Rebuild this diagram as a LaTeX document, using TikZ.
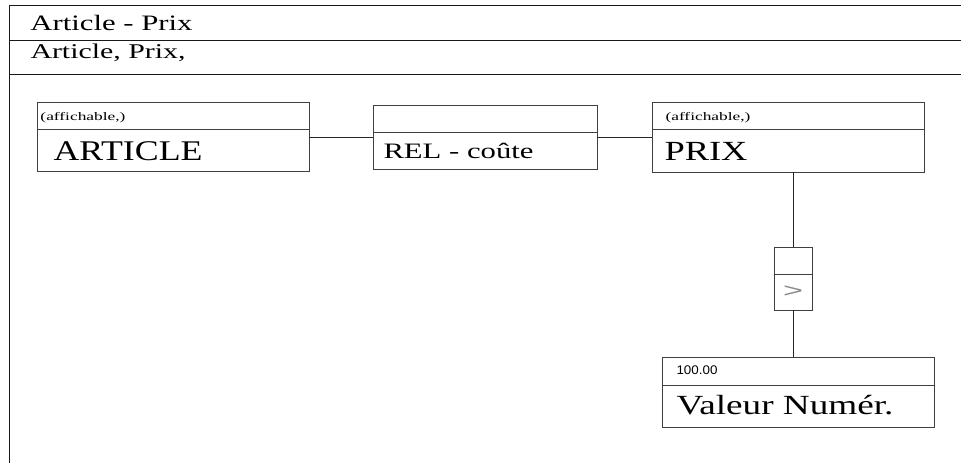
\documentclass[tikz,border=0pt]{standalone}
\usepackage{fontspec}
\usepackage{graphicx}
\setmainfont{Liberation Serif}
\newfontfamily\numfont{Liberation Sans}
% stretch a piece of text horizontally to a given width, height unchanged
\newcommand\fitw[2]{\resizebox{#1}{\height}{#2}}
\newcommand\fsz[1]{\fontsize{#1}{#1}\selectfont}
\begin{document}
\begin{tikzpicture}[x=1pt,y=-1pt,line width=1pt,
  frame/.style={draw=black!90},
  cell/.style={draw=black!75, fill=white, anchor=north west, inner sep=0pt, outer sep=0pt},
  txt/.style={inner sep=0pt, anchor=base west, text=black},
  link/.style={draw=black!85}]
\useasboundingbox (0,0) rectangle (961,463);

% outer frame and title rows
\draw[frame] (961,5) -- (9,5) -- (9,463);
\draw[frame] (9,40) -- (961,40);
\draw[frame] (9,74) -- (961,74);
\node[txt] (title) at (30,30.5) {\fsz{22}\fitw{162pt}{Article - Prix}};
\node[txt] (members) at (30,58) {\fsz{21}\fitw{155pt}{Article, Prix,}};

% ARTICLE entity
\node[cell, minimum width=272, minimum height=27] (artH) at (37,102) {};
\node[cell, minimum width=272, minimum height=42] (artB) at (37,129) {};
\node[txt] (artTag) at (40,120) {\fsz{11.5}\fitw{85pt}{(affichable,)}};
\node[txt] (artName) at (53,160.5) {\fsz{28.5}\fitw{149pt}{ARTICLE}};

% relation
\node[cell, minimum width=224, minimum height=27] (relH) at (373,105) {};
\node[cell, minimum width=224, minimum height=37] (relB) at (373,132) {};
\node[txt] (relName) at (383,158) {\fsz{22}\fitw{150pt}{REL - coûte}};

% PRIX entity
\node[cell, minimum width=272, minimum height=27] (prixH) at (652,102) {};
\node[cell, minimum width=272, minimum height=43] (prixB) at (652,129) {};
\node[txt] (prixTag) at (665,120) {\fsz{11.5}\fitw{85pt}{(affichable,)}};
\node[txt] (prixName) at (664,160) {\fsz{27.7}\fitw{83pt}{PRIX}};

% comparison box
\node[cell, minimum width=38, minimum height=27] (gtH) at (774,247) {};
\node[cell, minimum width=38, minimum height=36] (gtB) at (774,274) {};
\node[inner sep=0pt, text=black!45] (gtSym) at (gtB.center) {\numfont\fsz{20}\fitw{20pt}{>}};

% value
\node[cell, minimum width=272, minimum height=28] (valH) at (662,357) {};
\node[cell, minimum width=272, minimum height=42] (valB) at (662,385) {};
\node[txt] (valNum) at (676,374) {\numfont\fsz{12.5}\fitw{41pt}{100.00}};
\node[txt] (valName) at (676,414) {\fsz{27.7}\fitw{217pt}{Valeur Numér.}};

% connectors
\draw[link] ([yshift=-8pt]artB.north east) -- ([yshift=-5pt]relB.north west);
\draw[link] ([yshift=-5pt]relB.north east) -- ([yshift=-8pt]prixB.north west);
\draw[link] (prixB.south -| gtH.north) -- (gtH.north);
\draw[link] (gtB.south) -- (valH.north -| gtB.south);
\end{tikzpicture}
\end{document}
